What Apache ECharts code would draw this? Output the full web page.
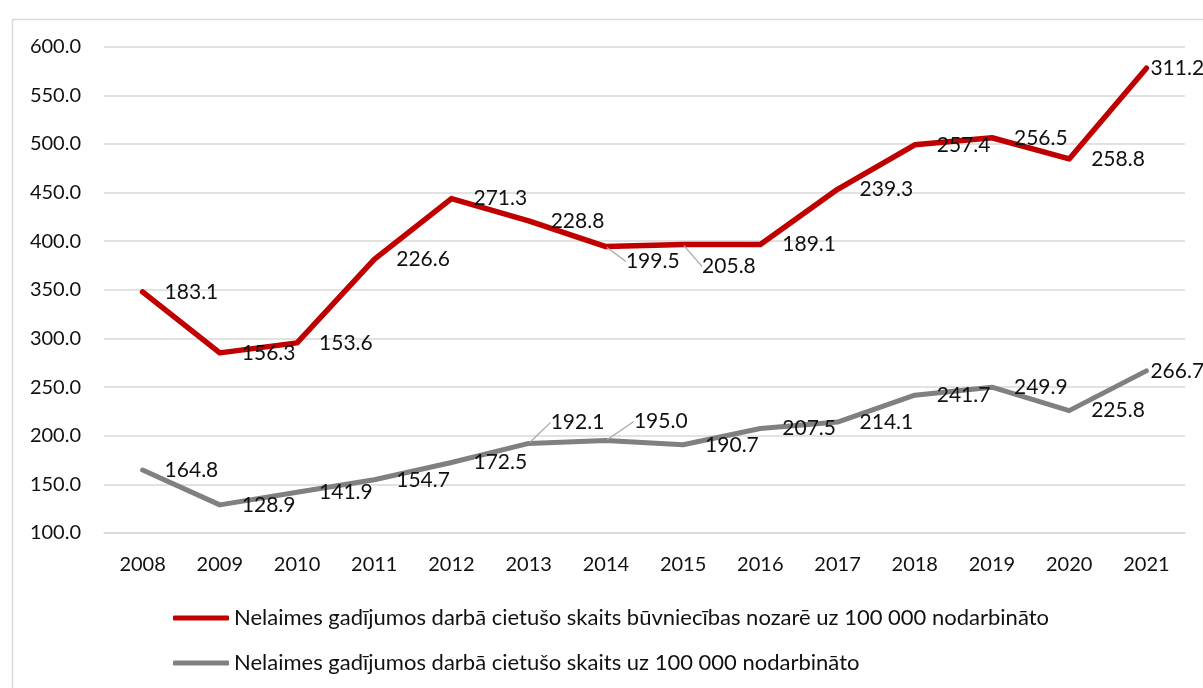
<!DOCTYPE html>
<html>
<head>
<meta charset="utf-8">
<script src="https://cdn.jsdelivr.net/npm/echarts@6/dist/echarts.min.js"></script>
<style>
  html, body { margin: 0; padding: 0; background: #fff; }
  #chart { width: 1203px; height: 688px; }
</style>
</head>
<body>
<div id="chart"></div>
<script>
const years = ['2008', '2009', '2010', '2011', '2012', '2013', '2014', '2015', '2016', '2017', '2018', '2019', '2020', '2021']
// būvniecības nozare (uz 100 000 nodarbināto)
const buvniecibaRate = [183.1, 156.3, 153.6, 226.6, 271.3, 228.8, 199.5, 205.8, 189.1, 239.3, 257.4, 256.5, 258.8, 311.2]
// visas nozares (uz 100 000 nodarbināto)
const kopaRate = [164.8, 128.9, 141.9, 154.7, 172.5, 192.1, 195.0, 190.7, 207.5, 214.1, 241.7, 249.9, 225.8, 266.7]
const seriesNames = [
  'Nelaimes gadījumos darbā cietušo skaits būvniecības nozarē uz 100 000 nodarbināto',
  'Nelaimes gadījumos darbā cietušo skaits uz 100 000 nodarbināto'
]

const FONT = 'Lato'
const TEXT = '#111111'

// labels that Excel had dragged away from their point
const movedLabels = {
  kopa: { 5: [0, -21], 6: [6, -19], 13: [-18, 0] },
  buv: { 6: [-2, 15], 7: [-3, 22], 13: [-18, 0] }
}
// only these get a leader line
const leaderLines = {
  kopa: [5, 6],
  buv: [6, 7]
}

function buildData(values, withLine) {
  return values.map((v, i) => {
    if (withLine.indexOf(i) < 0) return v
    return { value: v, labelLine: { show: true } }
  })
}

const chart = echarts.init(document.getElementById('chart'))

const labelCommon = {
  show: true,
  position: 'right',
  distance: 21,
  color: TEXT,
  fontFamily: FONT,
  fontSize: 21,
  formatter: function (p) { return Number(p.value).toFixed(1) }
}

const option = {
  animation: false,
  backgroundColor: '#ffffff',
  graphic: [{
    type: 'rect',
    left: 10, top: 17,
    shape: { width: 1210, height: 700 },
    style: { fill: 'none', stroke: '#d9d9d9', lineWidth: 1.5 },
    silent: true
  }],
  grid: { left: 104, right: 18, top: 46.7, bottom: 155, containLabel: false },
  legend: {
    orient: 'vertical',
    left: 173,
    top: 607,
    padding: 0,
    itemWidth: 56,
    itemHeight: 5,
    itemGap: 23,
    icon: 'roundRect',
    data: [seriesNames[0], seriesNames[1]],
    textStyle: { color: TEXT, fontFamily: FONT, fontSize: 22 }
  },
  xAxis: {
    type: 'category',
    data: years,
    boundaryGap: true,
    axisLine: { show: true, lineStyle: { color: '#d9d9d9', width: 1.5 } },
    axisTick: { show: false },
    axisLabel: { color: TEXT, fontFamily: FONT, fontSize: 20, margin: 22 }
  },
  yAxis: {
    type: 'value',
    min: 100,
    max: 600,
    interval: 50,
    axisLine: { show: false },
    axisTick: { show: false },
    splitLine: { lineStyle: { color: '#d9d9d9', width: 1.5 } },
    axisLabel: {
      color: TEXT, fontFamily: FONT, fontSize: 20, margin: 23,
      formatter: function (v) { return v.toFixed(1) }
    }
  },
  series: [
    {
      name: seriesNames[1],
      type: 'line',
      stack: 'kopa',
      data: buildData(kopaRate, leaderLines.kopa),
      symbol: 'circle',
      symbolSize: 2,
      color: '#808080',
      lineStyle: { color: '#808080', width: 5, cap: 'round', join: 'round' },
      itemStyle: { color: '#808080' },
      label: labelCommon,
      labelLine: { show: false, lineStyle: { color: '#a6a6a6', width: 1.2 } },
      labelLayout: function (params) {
        const m = movedLabels.kopa[params.dataIndex]
        return m ? { dx: m[0], dy: m[1] } : {}
      },
      z: 2
    },
    {
      name: seriesNames[0],
      type: 'line',
      stack: 'kopa',
      data: buildData(buvniecibaRate, leaderLines.buv),
      symbol: 'circle',
      symbolSize: 2,
      color: '#c00000',
      lineStyle: { color: '#c00000', width: 5.5, cap: 'round', join: 'round' },
      itemStyle: { color: '#c00000' },
      label: labelCommon,
      labelLine: { show: false, lineStyle: { color: '#a6a6a6', width: 1.2 } },
      labelLayout: function (params) {
        const m = movedLabels.buv[params.dataIndex]
        return m ? { dx: m[0], dy: m[1] } : {}
      },
      z: 3
    }
  ]
}

chart.setOption(option)
</script>
</body>
</html>
